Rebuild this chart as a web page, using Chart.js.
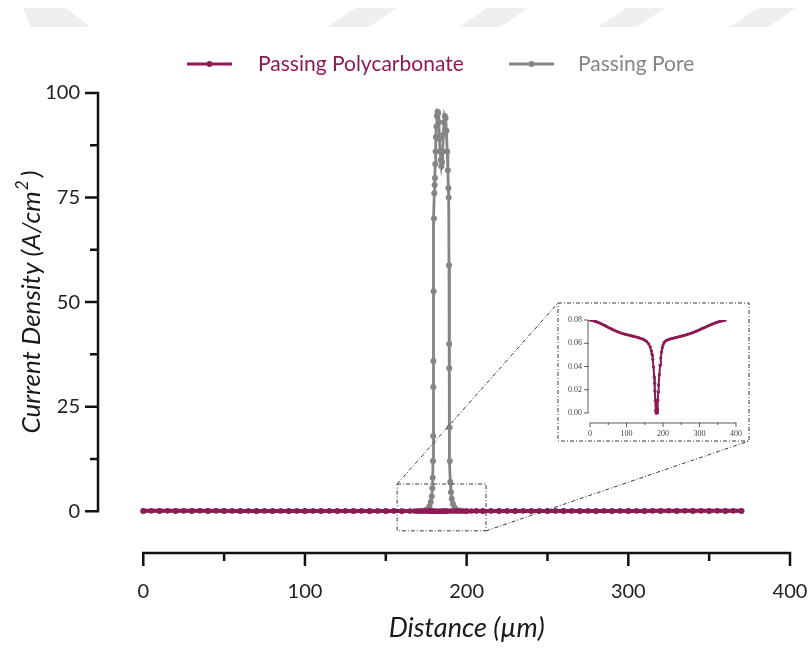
<!DOCTYPE html>
<html>
<head>
<meta charset="utf-8">
<script src="https://cdn.jsdelivr.net/npm/chart.js@4.4.1/dist/chart.umd.min.js"></script>
<style>
html,body{margin:0;padding:0;background:#fff;}
#wrap{position:relative;width:808px;height:649px;}
#main{position:absolute;left:0;top:0;}
#inset{position:absolute;left:558px;top:303px;}
</style>
</head>
<body>
<div id="wrap">
<canvas id="main" width="808" height="649"></canvas>
<canvas id="inset" width="191" height="138"></canvas>
</div>
<script>
// Passing Polycarbonate: distance (um) and current density (A/cm2)
const distPC = [0,5,10,15,20,25,30,35,40,45,50,55,60,65,70,75,80,85,90,95,
  100,105,110,115,120,125,130,135,140,145,150,155,160,165,168,170,172,174,176,177,
  178,179,180,181,182,183,184,185,186,187,188,190,192,194,196,198,200,203,206,210,
  215,220,225,230,235,240,245,250,255,260,265,270,275,280,285,290,295,300,305,310,
  315,320,325,330,335,340,345,350,355,360,365,370];
const currentPC = [0.0800,0.0797,0.0793,0.0788,0.0782,0.0776,0.0769,0.0761,0.0753,0.0745,
  0.0737,0.0729,0.0721,0.0714,0.0707,0.0700,0.0694,0.0688,0.0683,0.0679,
  0.0675,0.0671,0.0667,0.0663,0.0659,0.0655,0.0651,0.0646,0.0641,0.0635,
  0.0627,0.0616,0.0598,0.0568,0.0535,0.0505,0.0460,0.0395,0.0310,0.0255,
  0.0190,0.0110,0.0020,0.0002,0.0001,0.0001,0.0003,0.0030,0.0110,0.0180,
  0.0240,0.0330,0.0410,0.0475,0.0525,0.0560,0.0585,0.0605,0.0617,0.0626,
  0.0632,0.0637,0.0641,0.0645,0.0649,0.0653,0.0657,0.0661,0.0665,0.0669,
  0.0674,0.0679,0.0684,0.0690,0.0696,0.0702,0.0709,0.0716,0.0723,0.0730,
  0.0737,0.0744,0.0751,0.0758,0.0765,0.0771,0.0777,0.0782,0.0787,0.0791,
  0.0795,0.0798];

// Passing Pore
const distPore = [0,10,20,30,40,50,60,70,80,90,100,110,120,130,140,150,160,170,
  172,174,175,176,177,177.8,178.4,178.8,179.0,179.2,179.3,179.4,179.45,179.6,179.8,
  180.0,180.2,180.4,180.6,180.8,181.0,181.3,181.6,182.0,182.4,182.8,183.2,183.6,
  184.0,184.4,184.8,185.2,185.6,186.0,186.5,187.0,187.5,188.0,188.4,188.7,188.9,
  189.1,189.2,189.25,189.4,189.6,189.9,190.3,190.8,191.5,192.5,194,196,200,
  210,220,230,240,250,260,270,280,290,300,310,320,330,340,350,360,370];
const currentPore = [0,0,0,0,0,0,0,0,0,0,0,0,0,0,0,0,0,0,
  0.05,0.15,0.3,0.6,1.2,2.2,3.5,5.5,8,12,18,29.7,35.9,52.6,70,
  76,78,79.7,83,86,89.5,92,94.5,95.5,95.2,93,89,86,
  84,82.5,83.5,86,90,93,94.5,94,91,86,81.5,77.3,75,
  58.8,40,34.2,20,12,7,4.5,3,1.8,0.9,0.3,0.1,0,
  0,0,0,0,0,0,0,0,0,0,0,0,0,0,0,0,0];

const xTicks = [0,100,200,300,400];
const xMinor = [50,150,250,350];
const yTicks = [0,25,50,75,100];
const yMinor = [12.5,37.5,62.5,87.5];
const insetXTicks = [0,100,200,300,400];
const insetYTicks = [0,0.02,0.04,0.06,0.08];

const PINK = '#8c1a55';
const GREY = '#858585';

function pts(xs, ys){ return xs.map((x,i)=>({x:x, y:ys[i]})); }

// fixed axis box sizes, no label overflow padding
function fixX(h){ return s=>{ s.height = h; s.paddingLeft = 0; s.paddingRight = 0; }; }
function fixY(w){ return s=>{ s.width = w; s.paddingTop = 0; s.paddingBottom = 0; }; }

// offset axes (Prism style): axis lines only over the data range, with major/minor ticks
const prismAxes = {
  id:'prismAxes',
  afterDraw(chart, args, o){
    const ctx = chart.ctx, sx = chart.scales.x, sy = chart.scales.y;
    const ax = chart.chartArea.left, ay = chart.chartArea.bottom;
    ctx.save();
    ctx.strokeStyle = o.color; ctx.lineWidth = o.width; ctx.lineCap = 'butt';
    ctx.beginPath();
    ctx.moveTo(ax, sy.getPixelForValue(o.yTicks[0]));
    ctx.lineTo(ax, sy.getPixelForValue(o.yTicks[o.yTicks.length-1]));
    o.yTicks.forEach(v=>{const p=sy.getPixelForValue(v); ctx.moveTo(ax+o.width/2,p); ctx.lineTo(ax-o.major,p);});
    o.yMinor.forEach(v=>{const p=sy.getPixelForValue(v); ctx.moveTo(ax+o.width/2,p); ctx.lineTo(ax-o.minor,p);});
    ctx.moveTo(sx.getPixelForValue(o.xTicks[0]), ay);
    ctx.lineTo(sx.getPixelForValue(o.xTicks[o.xTicks.length-1]), ay);
    o.xTicks.forEach(v=>{const p=sx.getPixelForValue(v); ctx.moveTo(p,ay-o.width/2); ctx.lineTo(p,ay+o.major);});
    o.xMinor.forEach(v=>{const p=sx.getPixelForValue(v); ctx.moveTo(p,ay-o.width/2); ctx.lineTo(p,ay+o.minor);});
    ctx.stroke();
    ctx.restore();
  }
};

// zoom box, connectors, inset frame, legend, axis titles, watermark
const zoomBox = {x0:157, x1:212, y0:-4.7, y1:6.5};
const insetRect = {left:558, top:303, right:749, bottom:441};

const decor = {
  id:'decor',
  beforeDraw(chart){
    const ctx = chart.ctx;
    ctx.save();
    ctx.fillStyle = '#efefef';
    [[23,67,90,31],[356,397,369,327],[487,528,500,459],[626,665,637,598],[758,796,768,729]].forEach(s=>{
      ctx.beginPath();
      ctx.moveTo(s[0],8); ctx.lineTo(s[1],8); ctx.lineTo(s[2],27); ctx.lineTo(s[3],27);
      ctx.closePath(); ctx.fill();
    });
    ctx.restore();
  },
  afterDatasetsDraw(chart){
    const ctx = chart.ctx, sx = chart.scales.x, sy = chart.scales.y;
    const bx0 = sx.getPixelForValue(zoomBox.x0), bx1 = sx.getPixelForValue(zoomBox.x1);
    const by0 = sy.getPixelForValue(zoomBox.y1), by1 = sy.getPixelForValue(zoomBox.y0);
    ctx.save();
    ctx.strokeStyle = '#3a3a3a'; ctx.lineWidth = 1;
    ctx.setLineDash([4,2,1,2]);
    ctx.strokeRect(bx0, by0, bx1-bx0, by1-by0);
    ctx.strokeRect(insetRect.left, insetRect.top, insetRect.right-insetRect.left, insetRect.bottom-insetRect.top);
    ctx.beginPath();
    ctx.moveTo(bx0, by0); ctx.lineTo(insetRect.left, insetRect.top);
    ctx.moveTo(bx1, by1); ctx.lineTo(insetRect.right, insetRect.bottom);
    ctx.stroke();
    ctx.restore();
  },
  afterDraw(chart){
    const ctx = chart.ctx, sx = chart.scales.x, sy = chart.scales.y;
    ctx.save();
    // legend
    const items = [{x:187, tx:258}, {x:509, tx:578}];
    chart.data.datasets.forEach((ds,i)=>{
      const it = items[i], ly = 64;
      ctx.strokeStyle = ds.borderColor; ctx.lineWidth = 3;
      ctx.beginPath(); ctx.moveTo(it.x, ly); ctx.lineTo(it.x+45, ly); ctx.stroke();
      ctx.fillStyle = ds.borderColor;
      ctx.beginPath(); ctx.arc(it.x+22.5, ly, 3, 0, Math.PI*2); ctx.fill();
      ctx.font = '21px Lato'; ctx.textBaseline = 'middle'; ctx.textAlign = 'left';
      ctx.fillText(ds.label, it.tx, ly);
    });
    // x title
    ctx.fillStyle = '#1a1a1a';
    ctx.font = 'italic 27px Lato'; ctx.textAlign = 'center'; ctx.textBaseline = 'middle';
    ctx.fillText('Distance (\u00b5m)', (sx.getPixelForValue(0)+sx.getPixelForValue(400))/2, 628);
    // y title with superscript
    const cy = (sy.getPixelForValue(0)+sy.getPixelForValue(100))/2;
    ctx.translate(32, cy); ctx.rotate(-Math.PI/2);
    const a = 'Current Density (A/cm', b = '2', c = ')';
    ctx.font = 'italic 26px Lato'; const wa = ctx.measureText(a).width, wc = ctx.measureText(c).width;
    ctx.font = 'italic 17px Lato'; const wb = ctx.measureText(b).width;
    let x0 = -(wa+wb+wc+4)/2;
    ctx.textAlign = 'left';
    ctx.font = 'italic 26px Lato'; ctx.fillText(a, x0, 0);
    ctx.font = 'italic 17px Lato'; ctx.fillText(b, x0+wa+1, -9);
    ctx.font = 'italic 26px Lato'; ctx.fillText(c, x0+wa+wb+4, 0);
    ctx.restore();
  }
};

Chart.defaults.font.family = 'Lato';

new Chart(document.getElementById('main'), {
  type:'scatter',
  data:{
    datasets:[
      {label:'Passing Polycarbonate', data:pts(distPC,currentPC), showLine:true,
       borderColor:PINK, backgroundColor:PINK, borderWidth:4, pointRadius:2.8, pointBorderWidth:0},
      {label:'Passing Pore', data:pts(distPore,currentPore), showLine:true,
       borderColor:GREY, backgroundColor:GREY, borderWidth:2.8, pointRadius:3, pointBorderWidth:0}
    ]
  },
  options:{
    responsive:false, animation:false,
    layout:{padding:{left:38, right:18, top:93, bottom:46}},
    plugins:{
      legend:{display:false}, tooltip:{enabled:false},
      prismAxes:{color:'#111', width:2.5, major:13, minor:8,
        xTicks:xTicks, xMinor:xMinor, yTicks:yTicks, yMinor:yMinor}
    },
    scales:{
      x:{type:'linear', min:-28, max:400,
        grid:{display:false, drawTicks:false}, border:{display:false},
        afterBuildTicks:s=>{ s.ticks = xTicks.map(v=>({value:v})); },
        afterFit:fixX(50),
        ticks:{font:{size:20}, color:'#222', padding:27, autoSkip:false, maxRotation:0}},
      y:{type:'linear', min:-10, max:100,
        grid:{display:false, drawTicks:false}, border:{display:false},
        afterBuildTicks:s=>{ s.ticks = yTicks.map(v=>({value:v})); },
        afterFit:fixY(60),
        ticks:{font:{size:20}, color:'#222', padding:18, autoSkip:false}}
    }
  },
  plugins:[prismAxes, decor]
});

new Chart(document.getElementById('inset'), {
  type:'scatter',
  data:{
    datasets:[
      {label:'Passing Polycarbonate', data:pts(distPC,currentPC), showLine:true,
       borderColor:PINK, backgroundColor:PINK, borderWidth:2, pointRadius:1.6, pointBorderWidth:0}
    ]
  },
  options:{
    responsive:false, animation:false,
    layout:{padding:{left:6, right:13, top:17, bottom:4}},
    plugins:{
      legend:{display:false}, tooltip:{enabled:false},
      prismAxes:{color:'#333', width:0.8, major:4, minor:2,
        xTicks:insetXTicks, xMinor:[50,150,250,350], yTicks:insetYTicks, yMinor:[]}
    },
    scales:{
      x:{type:'linear', min:-5.5, max:400,
        grid:{display:false, drawTicks:false}, border:{display:false},
        afterBuildTicks:s=>{ s.ticks = insetXTicks.map(v=>({value:v})); },
        afterFit:fixX(14),
        ticks:{font:{family:'Liberation Serif', size:8}, color:'#444', padding:6, autoSkip:false, maxRotation:0}},
      y:{type:'linear', min:-0.0086, max:0.08,
        grid:{display:false, drawTicks:false}, border:{display:false},
        afterBuildTicks:s=>{ s.ticks = insetYTicks.map(v=>({value:v})); },
        afterFit:fixY(24),
        ticks:{font:{family:'Liberation Serif', size:8}, color:'#444', padding:6, autoSkip:false,
          callback:v=>v.toFixed(2)}}
    }
  },
  plugins:[prismAxes]
});
</script>
</body>
</html>
